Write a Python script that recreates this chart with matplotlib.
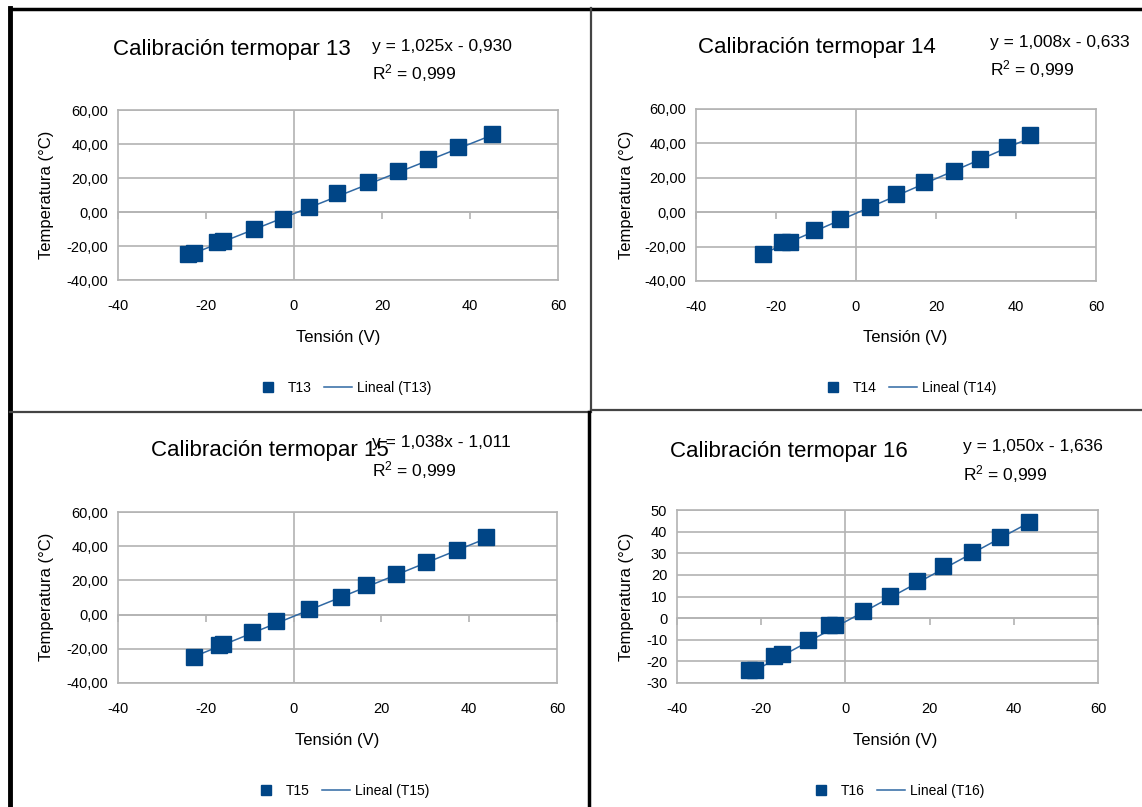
import numpy as np
import matplotlib
matplotlib.use("Agg")
import matplotlib.pyplot as plt
from matplotlib.lines import Line2D
from matplotlib.ticker import FuncFormatter

plt.rcParams['font.family'] = ['Liberation Sans Narrow', 'Liberation Sans', 'DejaVu Sans']
plt.rcParams['mathtext.default'] = 'regular'

# ---------------- data ----------------
names = ["T13", "T14", "T15", "T16"]
titles = ["Calibración termopar 13", "Calibración termopar 14",
          "Calibración termopar 15", "Calibración termopar 16"]

t13_v = [-24.0, -22.8, -17.6, -16.2, -9.2, -2.4, 3.5, 9.8, 16.9, 23.7, 30.5, 37.3, 44.9]
t13_t = [-24.6, -24.4, -17.5, -17.3, -10.2, -3.9, 3.1, 11.0, 17.8, 24.1, 31.4, 38.4, 45.7]

t14_v = [-23.3, -18.5, -16.4, -10.5, -3.9, 3.4, 10.0, 17.0, 24.5, 30.9, 37.8, 43.6]
t14_t = [-24.5, -17.4, -17.2, -10.1, -3.9, 3.1, 10.3, 17.6, 23.9, 30.9, 37.9, 44.9]

t15_v = [-22.8, -16.9, -16.0, -9.5, -3.9, 3.5, 10.8, 16.4, 23.3, 30.1, 37.3, 43.8]
t15_t = [-24.8, -17.5, -17.3, -10.3, -3.7, 3.1, 10.3, 17.5, 24.0, 31.0, 38.0, 45.4]

t16_v = [-23.0, -21.4, -17.0, -15.0, -9.0, -4.0, -2.4, 4.1, 10.7, 17.0, 23.3, 30.1, 36.8, 43.5]
t16_t = [-23.8, -23.8, -17.5, -16.4, -10.3, -3.2, -3.0, 3.5, 10.3, 17.2, 24.1, 30.7, 37.6, 44.5]

voltages = [t13_v, t14_v, t15_v, t16_v]
temps = [t13_t, t14_t, t15_t, t16_t]

slopes = [1.025, 1.008, 1.038, 1.050]
intercepts = [-0.930, -0.633, -1.011, -1.636]
r2_values = [0.999, 0.999, 0.999, 0.999]

x_ticks = [-40, -20, 0, 20, 40, 60]
y_ticks_a = [-40, -20, 0, 20, 40, 60]
y_ticks_b = [-30, -20, -10, 0, 10, 20, 30, 40, 50]
y_ticks = [y_ticks_a, y_ticks_a, y_ticks_a, y_ticks_b]
y_decimals = [2, 2, 2, 0]

# ---------------- layout ----------------
W, H = 1142, 807
fig = plt.figure(figsize=(W / 100, H / 100), dpi=100)

def fx(x):
    return x / W

def fy(y):
    return 1 - y / H

MARK = "#004586"
TREND = "#2f68a3"
GRID = "#b3b3b3"

# plot-area rectangles (left, top, right, bottom) in pixels
plot_boxes = [(118, 110, 558, 280), (696, 109, 1096, 281),
              (118, 512, 557, 683), (677, 510, 1098, 683)]
title_pos = [(232, 50), (817, 48), (270, 451), (789, 452)]
eq_pos = [(372, 46), (990, 43), (372, 442), (963, 447)]
r2_pos = [(372, 73), (990, 69), (372, 470), (963, 474)]
xlabel_pos = [(338, 337), (905, 337), (337, 741), (895, 741)]
ylabel_pos = [(47, 195), (627, 195), (47, 597), (627, 597)]
legend_pos = [(343, 388), (908, 388), (341, 791), (896, 791)]

def fmt_num(v, d):
    s = f"{v:.{d}f}"
    return s.replace(".", ",")

for i in range(4):
    l, t, r, b = plot_boxes[i]
    ax = fig.add_axes([fx(l), fy(b), fx(r) - fx(l), fy(t) - fy(b)])
    yt = y_ticks[i]
    ax.set_xlim(x_ticks[0], x_ticks[-1])
    ax.set_ylim(yt[0], yt[-1])
    ax.set_xticks(x_ticks)
    ax.set_yticks(yt)
    d = y_decimals[i]
    ax.yaxis.set_major_formatter(FuncFormatter(lambda v, p, d=d: fmt_num(v, d)))
    ax.xaxis.set_major_formatter(FuncFormatter(lambda v, p: f"{int(round(v))}"))
    ax.tick_params(axis='x', length=0, pad=14, labelsize=10.5, colors='black')
    ax.tick_params(axis='y', length=0, pad=7, labelsize=10.5, colors='black')
    for s in ax.spines.values():
        s.set_color(GRID)
        s.set_linewidth(1.2)
    ax.grid(axis='y', color=GRID, linewidth=1.2)
    ax.axvline(0, color=GRID, linewidth=1.2, zorder=1)
    # x axis crossing at y = 0 with small outward ticks
    frac0 = (0 - yt[0]) / (yt[-1] - yt[0])
    sec = ax.secondary_xaxis(frac0)
    sec.set_xticks(x_ticks)
    sec.tick_params(axis='x', direction='out', length=5, width=1.2, color=GRID,
                    labelbottom=False, labeltop=False)
    sec.spines['bottom'].set_color(GRID)
    sec.spines['bottom'].set_linewidth(1.2)
    ax.set_axisbelow(True)

    xv = np.array(voltages[i])
    ax.plot(xv, np.array(temps[i]), linestyle='none', marker='s', markersize=12,
            color=MARK, zorder=3)
    xs = np.array([xv.min(), xv.max()])
    ax.plot(xs, slopes[i] * xs + intercepts[i], color=TREND, linewidth=1.1, zorder=2)

    tx, ty = title_pos[i]
    fig.text(fx(tx), fy(ty), titles[i], ha='center', va='center', fontsize=16)
    ex, ey = eq_pos[i]
    sign = "-" if intercepts[i] < 0 else "+"
    eq = f"y = {fmt_num(slopes[i], 3)}x {sign} {fmt_num(abs(intercepts[i]), 3)}"
    fig.text(fx(ex), fy(ey), eq, ha='left', va='center', fontsize=12.5)
    rx, ry = r2_pos[i]
    fig.text(fx(rx), fy(ry), f"R$^2$ = {fmt_num(r2_values[i], 3)}", ha='left',
             va='center', fontsize=12.5)
    lx, ly = xlabel_pos[i]
    fig.text(fx(lx), fy(ly), "Tensión (V)", ha='center', va='center', fontsize=12)
    yx, yy = ylabel_pos[i]
    fig.text(fx(yx), fy(yy), "Temperatura (°C)", ha='center', va='center',
             fontsize=12, rotation=90)
    gx, gy = legend_pos[i]
    handles = [Line2D([], [], linestyle='none', marker='s', markersize=7, color=MARK),
               Line2D([], [], color=TREND, linewidth=1.1)]
    fig.legend(handles, [names[i], f"Lineal ({names[i]})"], loc='center',
               bbox_to_anchor=(fx(gx), fy(gy)), ncol=2, frameon=False,
               fontsize=10, handlelength=2.0, handletextpad=0.4, columnspacing=0.9)

# panel borders
def hline(y, x0, x1, lw, c):
    fig.add_artist(Line2D([fx(x0), fx(x1)], [fy(y), fy(y)], color=c, linewidth=lw))

def vline(x, y0, y1, lw, c):
    fig.add_artist(Line2D([fx(x), fx(x)], [fy(y0), fy(y1)], color=c, linewidth=lw))

hline(8.5, 10, W, 2.5, 'black')
vline(10, 8, H, 3.5, 'black')
vline(591, 8, 410, 1.6, '#444444')
hline(412, 10, 591, 1.6, '#444444')
hline(410, 591, W, 1.6, '#444444')
vline(589.5, 412, H, 2.5, 'black')

fig.savefig("out.png", dpi=100, facecolor='white')
